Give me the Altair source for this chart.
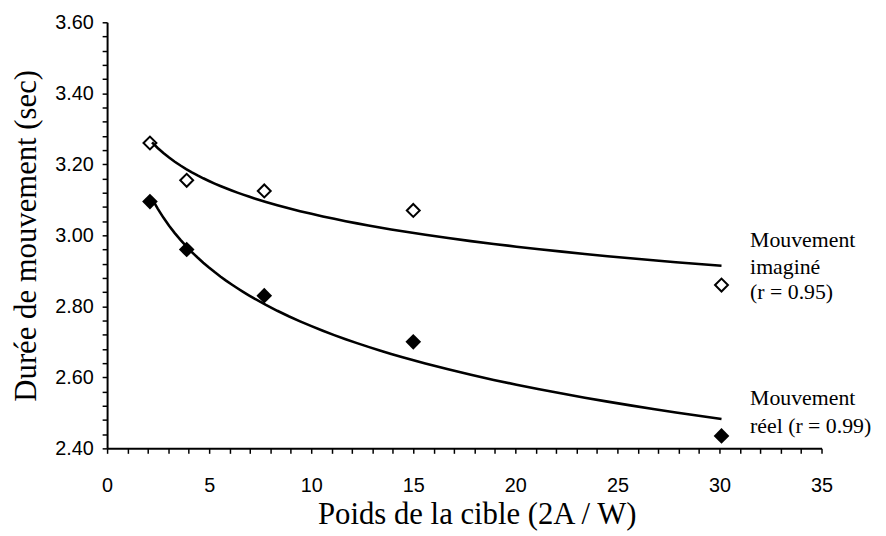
import altair as alt
import pandas as pd

# Data
x_vals = [2.1, 3.9, 7.7, 15.0, 30.1]
imagine_vals = [3.26, 3.155, 3.125, 3.07, 2.86]
reel_vals = [3.095, 2.96, 2.83, 2.70, 2.435]

y_ticks = [2.40, 2.44, 2.48, 2.52, 2.56, 2.60, 2.64, 2.68, 2.72, 2.76, 2.80,
           2.84, 2.88, 2.92, 2.96, 3.00, 3.04, 3.08, 3.12, 3.16, 3.20,
           3.24, 3.28, 3.32, 3.36, 3.40, 3.44, 3.48, 3.52, 3.56, 3.60]
x_ticks = list(range(0, 36))

ann_text = ["Mouvement", "imaginé", "(r = 0.95)", "Mouvement", "réel (r = 0.99)"]
ann_x = [31.5, 31.5, 31.5, 31.5, 31.5]
ann_y = [2.987, 2.911, 2.841, 2.542, 2.464]

df = pd.DataFrame({
    "x": x_vals + x_vals,
    "y": imagine_vals + reel_vals,
    "serie": ["imaginé"] * len(x_vals) + ["réel"] * len(x_vals),
})
ann = pd.DataFrame({"x": ann_x, "y": ann_y, "t": ann_text})

xs = alt.Scale(domain=[0, 35], nice=False, zero=False)
ys = alt.Scale(domain=[2.4, 3.6], nice=False, zero=False)

x_axis = alt.Axis(
    values=x_ticks,
    labelExpr="round(datum.value) % 5 == 0 ? format(datum.value, 'd') : ''",
    title="Poids de la cible (2A / W)",
    titleX=373,
    grid=False,
    labelOverlap=False,
    labelBound=False,
    labelFlush=False,
)
y_axis = alt.Axis(
    values=y_ticks,
    labelExpr="round(datum.value * 100) % 20 == 0 ? format(datum.value, '.2f') : ''",
    title="Durée de mouvement (sec)",
    grid=False,
    labelOverlap=False,
    labelBound=False,
    labelFlush=False,
)

X = alt.X("x:Q", scale=xs, axis=x_axis)
Y = alt.Y("y:Q", scale=ys, axis=y_axis)

base = alt.Chart(df)

curves = base.transform_regression(
    "x", "y", groupby=["serie"], method="log", extent=[2.2, 30.1]
).mark_line(color="black", strokeWidth=2.6).encode(x=X, y=Y, detail="serie:N")

pts_open = base.transform_filter("datum.serie == 'imaginé'").mark_point(
    shape="diamond", filled=False, color="black", strokeWidth=2, size=170, opacity=1
).encode(x=X, y=Y)

pts_fill = base.transform_filter("datum.serie == 'réel'").mark_point(
    shape="diamond", filled=True, color="black", size=250, opacity=1
).encode(x=X, y=Y)

labels = alt.Chart(ann).mark_text(
    align="left", baseline="middle", font="Liberation Serif", fontSize=22, color="black"
).encode(x=X, y=Y, text="t:N")

chart = alt.layer(curves, pts_open, pts_fill, labels).properties(
    width=721,
    height=430,
    autosize=alt.AutoSizeParams(type="none"),
    padding={"left": 100, "top": 12, "right": 57, "bottom": 84},
).configure_view(stroke=None).configure_axis(
    domainColor="black",
    domainWidth=2,
    tickColor="black",
    tickWidth=1.5,
    tickSize=5,
    labelFont="Liberation Sans",
    labelFontSize=20,
    labelColor="black",
    labelOverlap=False,
    titleFont="Liberation Serif",
    titleFontSize=31,
    titleFontWeight="normal",
    titleColor="black",
).configure_axisX(
    labelPadding=23,
    titlePadding=4,
).configure_axisY(
    labelPadding=9,
    titlePadding=12,
)

chart.save("out.html", embed_options={"renderer": "svg", "actions": False})
